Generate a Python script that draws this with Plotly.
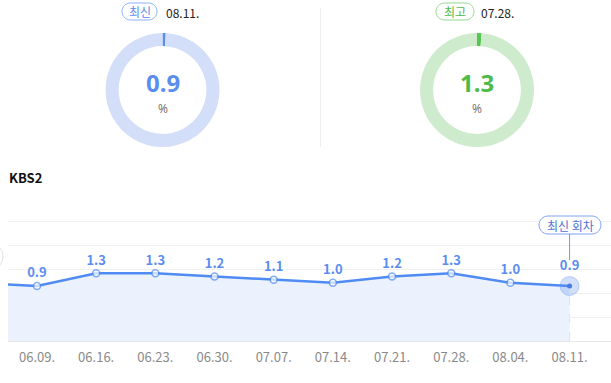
import plotly.graph_objects as go

# ---------------- data ----------------
dates = ["06.09.", "06.16.", "06.23.", "06.30.", "07.07.", "07.14.", "07.21.", "07.28.", "08.04.", "08.11."]
ratings = [0.9, 1.3, 1.3, 1.2, 1.1, 1.0, 1.2, 1.3, 1.0, 0.9]
prev_rating = 1.0          # episode before the first visible date (line enters from the left)
channel = "KBS2"
latest_label = "최신"
latest_date = "08.11."
best_label = "최고"
best_date = "07.28."
callout_text = "최신 회차"
gauge_max = 100.0

W, H = 611, 383
FONT = "Noto Sans CJK KR, Noto Sans, sans-serif"
NUMFONT = "Noto Sans, sans-serif"
BLUE = "#5B8DEF"
LINE_BLUE = "#4F8BF2"
GREEN = "#4DBB4A"

latest_val = ratings[-1]
best_idx = max(range(len(ratings)), key=lambda i: ratings[i])
best_val = ratings[best_idx]

# y axis calibrated to pixels
Y_MIN, Y_MAX = -0.832, 3.703
X_MIN, X_MAX = -0.49, 9.70


def px(x):
    return x / W


def py(y):
    return 1 - y / H


def pill_path(x0, y0, x1, y1):
    r = (y1 - y0) / 2
    k = 0.5523 * r
    yc = (y0 + y1) / 2

    def P(x, y):
        return f"{px(x):.5f},{py(y):.5f}"
    d = f"M {P(x0 + r, y0)} L {P(x1 - r, y0)} "
    d += f"C {P(x1 - r + k, y0)} {P(x1, yc - k)} {P(x1, yc)} "
    d += f"C {P(x1, yc + k)} {P(x1 - r + k, y1)} {P(x1 - r, y1)} "
    d += f"L {P(x0 + r, y1)} "
    d += f"C {P(x0 + r - k, y1)} {P(x0, yc + k)} {P(x0, yc)} "
    d += f"C {P(x0, yc - k)} {P(x0 + r - k, y0)} {P(x0 + r, y0)} Z"
    return d


fig = go.Figure()

xs_all = list(range(-1, len(ratings)))
ys_all = [prev_rating] + ratings

# baseline for fill
fig.add_trace(go.Scatter(x=xs_all, y=[Y_MIN] * len(xs_all), mode="lines",
                         line=dict(width=0, color="rgba(0,0,0,0)"), hoverinfo="skip",
                         showlegend=False))
labels = [""] + [f"{v:.1f}" for v in ratings[:-1]] + [""]
sizes = [7] * (len(xs_all) - 1) + [0]
fig.add_trace(go.Scatter(x=xs_all, y=ys_all, mode="lines+markers+text",
                         fill="tonexty", fillcolor="#EBF2FD",
                         line=dict(color=LINE_BLUE, width=2.5),
                         marker=dict(size=sizes, color="white", line=dict(color=LINE_BLUE, width=1.5)),
                         text=labels, textposition="top center",
                         textfont=dict(family=FONT, size=13, color=BLUE, weight="bold"),
                         hoverinfo="skip", showlegend=False))
# latest point halo
last_x = len(ratings) - 1
fig.add_trace(go.Scatter(x=[last_x], y=[latest_val], mode="markers+text",
                         marker=dict(size=19, color="rgba(91,141,239,0.28)",
                                     line=dict(color="rgba(91,141,239,0.35)", width=1)),
                         text=[f"{latest_val:.1f}"], textposition="top center",
                         textfont=dict(family=FONT, size=13, color=BLUE, weight="bold"),
                         hoverinfo="skip", showlegend=False))
fig.add_trace(go.Scatter(x=[last_x], y=[latest_val], mode="markers",
                         marker=dict(size=5, color="#4A7BE0"),
                         hoverinfo="skip", showlegend=False))


# donuts
def donut(val, ring, fill, cx, cy, r):
    fig.add_trace(go.Pie(values=[val, gauge_max - val], sort=False, direction="clockwise",
                         rotation=0, hole=0.77, textinfo="none", hoverinfo="skip",
                         marker=dict(colors=[fill, ring], line=dict(width=0)),
                         showlegend=False,
                         domain=dict(x=[px(cx - r), px(cx + r)], y=[py(cy + r), py(cy - r)])))


donut(latest_val, "#D3DFF8", BLUE, 162.5, 90, 57)
donut(best_val, "#CFEBCD", "#55C552", 477, 90, 57)

shapes = []
annotations = []

# divider
shapes.append(dict(type="line", xref="paper", yref="paper", x0=px(320.5), x1=px(320.5),
                   y0=py(8), y1=py(147), line=dict(color="#EEEEEE", width=1)))
# pills
shapes.append(dict(type="path", xref="paper", yref="paper", path=pill_path(122, 3, 157, 20),
                   line=dict(color="#8DB0F5", width=1), fillcolor="white"))
shapes.append(dict(type="path", xref="paper", yref="paper", path=pill_path(436, 3, 474, 20),
                   line=dict(color="#95D893", width=1), fillcolor="white"))
shapes.append(dict(type="path", xref="paper", yref="paper", path=pill_path(539, 216, 601, 234),
                   line=dict(color="#7FA3F2", width=1), fillcolor="white"))
# callout stem
shapes.append(dict(type="line", xref="x", yref="paper", x0=last_x, x1=last_x,
                   y0=py(260), y1=py(234), line=dict(color="#6F97EE", width=1)))
# dashed drop line
shapes.append(dict(type="line", xref="x", yref="y", x0=last_x, x1=last_x,
                   y0=Y_MIN, y1=latest_val, line=dict(color="#BCD0F5", width=1, dash="dash"),
                   layer="below"))
# left nav button hint
shapes.append(dict(type="circle", xref="paper", yref="paper", x0=px(-22), x1=px(3),
                   y0=py(270), y1=py(243), line=dict(color="#E3E3E3", width=1), fillcolor="white"))


def ann(text, x, y, size, color, bold=False, xanchor="center", family=FONT):
    annotations.append(dict(text=f"<b>{text}</b>" if bold else text, xref="paper", yref="paper",
                            x=px(x), y=py(y), xanchor=xanchor, yanchor="middle", showarrow=False,
                            borderpad=0, font=dict(family=family, size=size, color=color)))


ann(latest_label, 139.5, 11.5, 12, BLUE)
ann(latest_date, 165, 12, 12, "#222222", xanchor="left")
ann(best_label, 455, 11.5, 12, GREEN)
ann(best_date, 480, 12, 12, "#222222", xanchor="left")
ann(f"{latest_val:.1f}", 162.5, 82.5, 24, BLUE, bold=True, family=NUMFONT)
ann("%", 162.5, 108, 12, "#777777", family=NUMFONT)
ann(f"{best_val:.1f}", 477, 82.5, 24, GREEN, bold=True, family=NUMFONT)
ann("%", 477, 108, 12, "#777777", family=NUMFONT)
ann(channel, 8, 177, 13, "#111111", bold=True, xanchor="left")
ann(callout_text, 570, 225, 12, "#4F72D3")

fig.update_layout(
    width=W, height=H, margin=dict(l=0, r=0, t=0, b=0),
    paper_bgcolor="white", plot_bgcolor="white",
    font=dict(family=FONT),
    shapes=shapes, annotations=annotations,
    xaxis=dict(domain=[px(8), 1], range=[X_MIN, X_MAX], tickmode="array",
               tickvals=list(range(len(dates))), ticktext=dates, showgrid=False,
               zeroline=False, showline=True, linecolor="#E6E6E6", linewidth=1,
               ticks="", tickfont=dict(family=FONT, size=13, color="#8A8A8A"),
               ticklabelstandoff=4, fixedrange=True),
    yaxis=dict(domain=[py(341), py(197)], range=[Y_MIN, Y_MAX], tick0=Y_MIN,
               dtick=(Y_MAX - Y_MIN) / 6, showticklabels=False, gridcolor="#F0F0F0",
               gridwidth=1, zeroline=False, showline=False, ticks="", fixedrange=True),
)

fig.write_html("out.html", config={"displayModeBar": False},
               post_script="document.body.style.margin='0';document.body.style.overflow='hidden';")
